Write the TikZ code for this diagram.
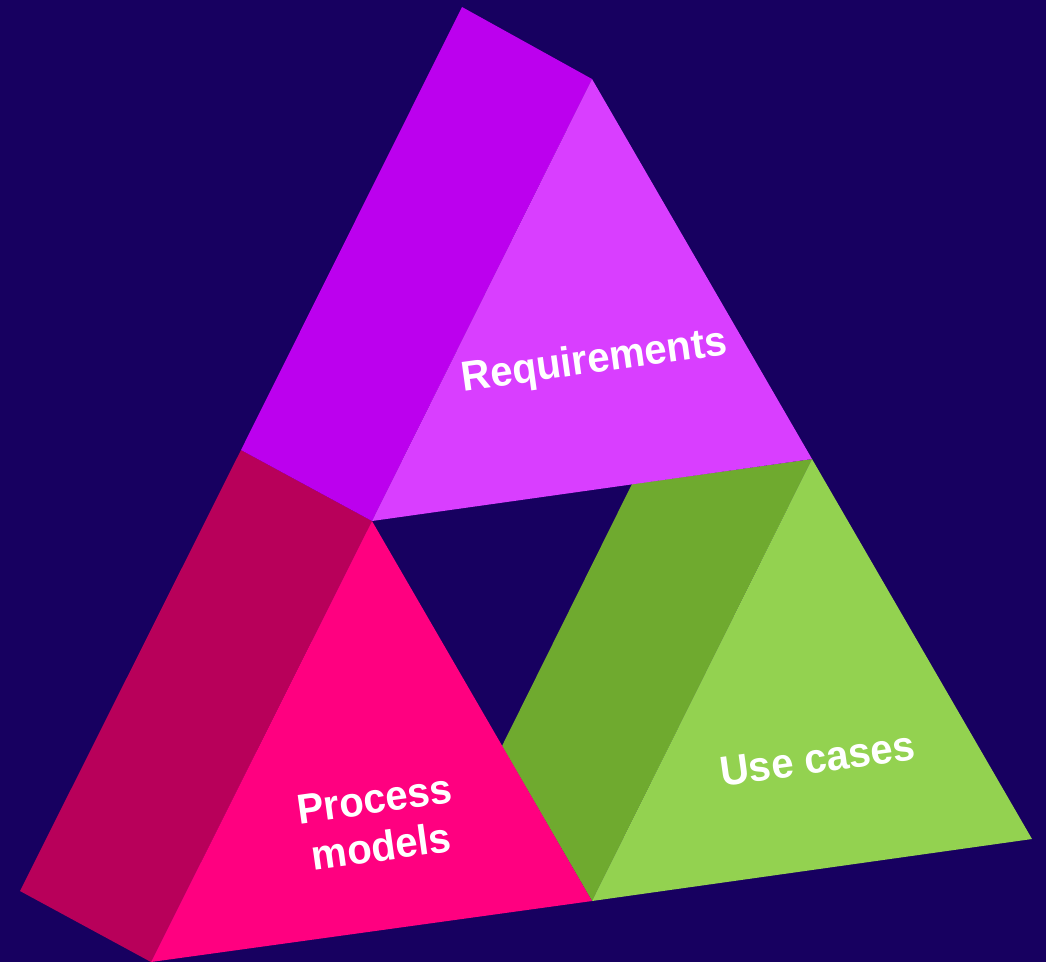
\documentclass[tikz,border=0pt]{standalone}
\usepackage{fontspec}
\setmainfont[FakeStretch=0.955]{Liberation Sans}
\definecolor{bgc}{HTML}{170060}
\definecolor{purpD}{HTML}{BC00EE}
\definecolor{purpL}{HTML}{D93EFF}
\definecolor{pinkD}{HTML}{B8005A}
\definecolor{pinkL}{HTML}{FF0080}
\definecolor{greenD}{HTML}{6FAA2F}
\definecolor{greenL}{HTML}{93D250}
\tikzset{
  lbl/.style={text=white,font=\fontsize{42}{48}\selectfont\bfseries,align=center,inner sep=0pt,rotate=7.9},
  face/.style={draw=none}
}
\begin{document}
\begin{tikzpicture}[x=1pt,y=-1pt]
\useasboundingbox (0,0) rectangle (1046,962);
\fill[bgc] (0,0) rectangle (1046,962);
% green
\fill[face,greenD] (632,484) -- (812,459) -- (592,901) -- (502,746) -- cycle;
\fill[face,greenL] (812,459) -- (1032,839) -- (592,901) -- cycle;
% pink
\fill[face,pinkD] (241,450) -- (372,521) -- (151,962) -- (20,891) -- cycle;
\fill[face,pinkL] (372,521) -- (592,901) -- (151,962) -- cycle;
% purple
\fill[face,purpD] (462,7) -- (592,79) -- (372,521) -- (241,450) -- cycle;
\fill[face,purpL] (592,79) -- (812,459) -- (372,521) -- cycle;
\node[lbl] (req) at (594.5,362) {Requirements};
\node[lbl] (use) at (817.5,759) {Use cases};
\node[lbl] (proc) at (378,823) {Process\\models};
\end{tikzpicture}
\end{document}
